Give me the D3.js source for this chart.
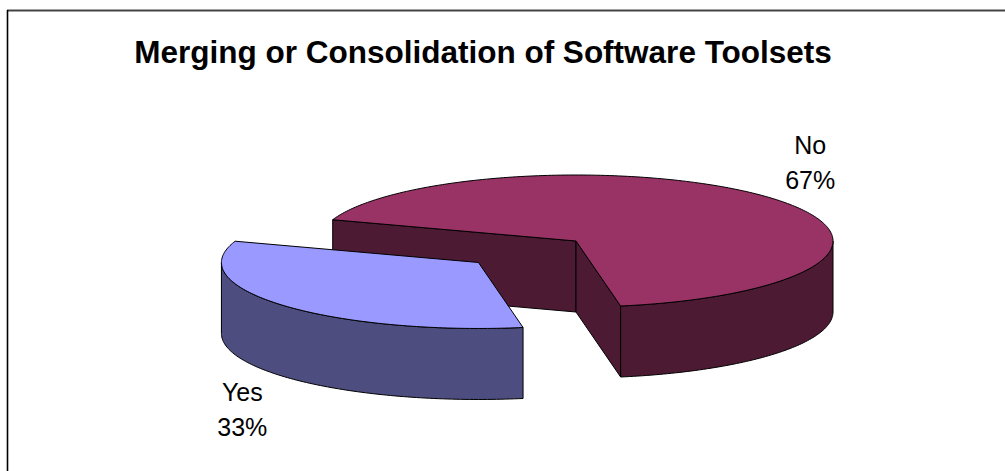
<!DOCTYPE html>
<html>
<head>
<meta charset="utf-8">
<script src="https://cdn.jsdelivr.net/npm/d3@7"></script>
<style>
  body { margin: 0; background: #fff; }
  svg { display: block; font-family: "Liberation Sans", Arial, sans-serif; }
</style>
</head>
<body>
<div class="pie-chart"></div>
<script>
// data
const categories = ["Yes", "No"];
const values = [33, 67];
const percentLabels = ["33%", "67%"];
const topColors = ["#9999FF", "#993366"];
const sideColors = ["#4D4D80", "#4D1A33"];
const explode = [0.5, 0];
const title = "Merging or Consolidation of Software Toolsets";

const width = 1005;
const height = 471;

// pie layout (3d look)
const cx = 576, cy = 241, rx = 257, ry = 66, depth = 71;
const rad = Math.PI / 180;

const svg = d3.select('.pie-chart')
    .append('svg')
    .attr('width', width)
    .attr('height', height);

// frame (cut off at the right and bottom)
svg.append("line")
    .attr("x1", 7).attr("x2", width).attr("y1", 10.5).attr("y2", 10.5)
    .attr("stroke", "#444").attr("stroke-width", 2);
svg.append("line")
    .attr("x1", 7.5).attr("x2", 7.5).attr("y1", 10).attr("y2", height)
    .attr("stroke", "#000").attr("stroke-width", 1.6);

svg.append("text")
    .attr("x", 483)
    .attr("y", 63)
    .attr("text-anchor", "middle")
    .attr("font-size", 31.5)
    .attr("font-weight", "bold")
    .text(title);

const x = d3.scaleLinear().domain([-1, 1]).range([cx - rx, cx + rx]);
const y = d3.scaleLinear().domain([-1, 1]).range([cy + ry, cy - ry]);

const pie = d3.pie().sort(null).startAngle(170 * rad).endAngle(170 * rad + 2 * Math.PI);
const arcs = pie(values).map((d, i) => {
    const mid = (d.startAngle + d.endAngle) / 2;
    return {
        ...d,
        i: i,
        mid: mid,
        ox: explode[i] * Math.sin(mid),
        oy: explode[i] * Math.cos(mid)
    };
});

function pt(d, a, r, dz) {
    return [x(d.ox + r * Math.sin(a)), y(d.oy + r * Math.cos(a)) + dz];
}
function sample(a0, a1) {
    const n = Math.max(2, Math.ceil((a1 - a0) / rad));
    return d3.range(n + 1).map(k => a0 + (a1 - a0) * k / n);
}
const line = d3.line();

// back slices first
arcs.sort((a, b) => b.oy - a.oy);

arcs.forEach(d => {
    const g = svg.append("g");
    const a0 = d.startAngle, a1 = d.endAngle;
    const c = pt(d, 0, 0, 0);

    // radial side faces
    if (Math.sin(a0) < 0) {
        const p = pt(d, a0, 1, 0);
        g.append("path")
            .attr("d", line([c, p, [p[0], p[1] + depth], [c[0], c[1] + depth]]) + "Z")
            .attr("fill", sideColors[d.i]).attr("stroke", "#000").attr("stroke-width", 1);
    }
    if (Math.sin(a1) > 0) {
        const p = pt(d, a1, 1, 0);
        g.append("path")
            .attr("d", line([c, p, [p[0], p[1] + depth], [c[0], c[1] + depth]]) + "Z")
            .attr("fill", sideColors[d.i]).attr("stroke", "#000").attr("stroke-width", 1);
    }

    // outer wall, front part only
    [0, 1].forEach(k => {
        const lo = Math.max(a0, (90 + 360 * k) * rad);
        const hi = Math.min(a1, (270 + 360 * k) * rad);
        if (hi <= lo) return;
        const angs = sample(lo, hi);
        const topPts = angs.map(a => pt(d, a, 1, 0));
        const botPts = angs.slice().reverse().map(a => pt(d, a, 1, depth));
        g.append("path")
            .attr("d", line(topPts.concat(botPts)) + "Z")
            .attr("fill", sideColors[d.i]).attr("stroke", "#000").attr("stroke-width", 1);
    });

    // top face
    const topFace = [c].concat(sample(a0, a1).map(a => pt(d, a, 1, 0)));
    g.append("path")
        .attr("d", line(topFace) + "Z")
        .attr("fill", topColors[d.i]).attr("stroke", "#000").attr("stroke-width", 1)
        .attr("stroke-linejoin", "round");
});

// labels
arcs.forEach(d => {
    const p = pt(d, d.mid, 1.2, 0);
    const front = Math.cos(d.mid) < 0;
    const lines = [categories[d.i], percentLabels[d.i]];
    const base = front ? p[1] + depth + 16 : p[1] - 35;
    svg.selectAll(null)
        .data(lines)
        .enter()
        .append("text")
        .attr("x", p[0] - (front ? 2 : 0))
        .attr("y", (t, k) => base + k * 35)
        .attr("text-anchor", "middle")
        .attr("font-size", 25)
        .attr("fill", "#000")
        .text(t => t);
});
</script>
</body>
</html>
